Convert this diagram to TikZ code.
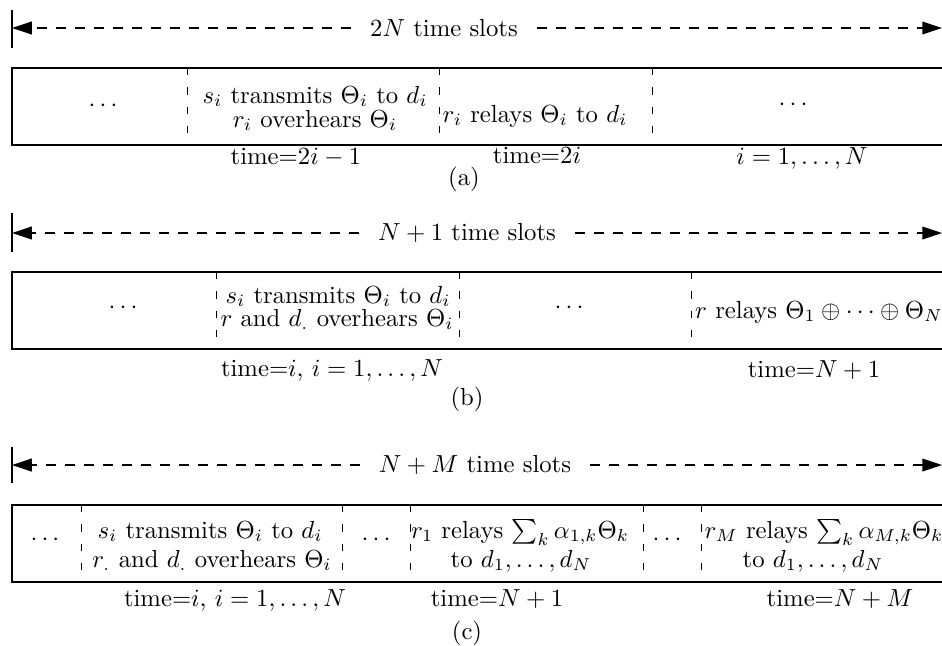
\documentclass[tikz,border=0pt]{standalone}
\usetikzlibrary{arrows.meta}
\begin{document}
\begin{tikzpicture}[x=0.405pt,y=-0.405pt,
  frame/.style={draw, line width=0.5pt},
  sep/.style={draw, line width=0.4pt, dash pattern=on 3pt off 4.8pt},
  span/.style={line width=0.45pt, dash pattern=on 4pt off 3.7pt, -{Triangle[length=8pt,width=5.2pt]}},
  bar/.style={line width=0.5pt},
  ttl/.style={inner ysep=2pt, inner xsep=7.5pt},
  txt/.style={inner sep=0pt, anchor=base},
  dots/.style={inner sep=0pt, anchor=center}]
\useasboundingbox (0,0) rectangle (942,645);
\clip (0,0) rectangle (942,645);

% ---------------- (a) ----------------
\coordinate (aBt) at (12,10);
\coordinate (aBb) at (12,48);
\coordinate (aL) at (12,28);
\coordinate (aR) at (942,28);
\draw[bar] (aBt) -- (aBb);
\node[ttl] (aT) at (444,28) {$2N$ time slots};
\draw[span] (aT.west) -- (aL);
\draw[span] (aT.east) -- (aR);
\draw[frame] (12,68) rectangle (960,145);
\draw[sep] (187,68) -- (187,145);
\draw[sep] (439,68) -- (439,145);
\draw[sep] (652,68) -- (652,145);
\node[dots] (a1) at (103,106) {$\cdots$};
\node[txt] (a2a) at (315,103) {$s_i$ transmits $\Theta_i$ to $d_i$};
\node[txt] (a2b) at (315,127) {$r_i$ overhears $\Theta_i$};
\node[txt] (a3) at (535,122) {$r_i$ relays $\Theta_i$ to $d_i$};
\node[dots] (a4) at (793,105) {$\cdots$};
\node[txt] (at1) at (296,164) {time=$2i-1$};
\node[txt] (at2) at (537,163) {time=$2i$};
\node[txt] (at3) at (802,164) {$i=1,\ldots,N$};
\node[txt] (acap) at (464,185) {(a)};

% ---------------- (b) ----------------
\coordinate (bBt) at (12,213);
\coordinate (bBb) at (12,252);
\coordinate (bL) at (12,233);
\coordinate (bR) at (942,233);
\draw[bar] (bBt) -- (bBb);
\node[ttl] (bT) at (467,233) {$N+1$ time slots};
\draw[span] (bT.west) -- (bL);
\draw[span] (bT.east) -- (bR);
\draw[frame] (12,272) rectangle (960,349);
\draw[sep] (216,272) -- (216,349);
\draw[sep] (459,272) -- (459,349);
\draw[sep] (691,272) -- (691,349);
\node[dots] (b1) at (123,308) {$\cdots$};
\node[txt] (b2a) at (338,303) {$s_i$ transmits $\Theta_i$ to $d_i$};
\node[txt] (b2b) at (337,326) {$r$ and $d_{.}$ overhears $\Theta_i$};
\node[dots] (b3) at (569,308) {$\cdots$};
\node[txt] (b4) at (819,318) {$r$ relays $\Theta_1\oplus\cdots\oplus\Theta_N$};
\node[txt] (bt1) at (332,376) {time=$i$, $i=1,\ldots,N$};
\node[txt] (bt2) at (814,377) {time=$N+1$};
\node[txt] (bcap) at (467,405) {(b)};

% ---------------- (c) ----------------
\coordinate (cBt) at (12,447);
\coordinate (cBb) at (12,483);
\coordinate (cL) at (12,465);
\coordinate (cR) at (942,465);
\draw[bar] (cBt) -- (cBb);
\node[ttl] (cT) at (475,465) {$N+M$ time slots};
\draw[span] (cT.west) -- (cL);
\draw[span] (cT.east) -- (cR);
\draw[frame] (12,505) rectangle (960,582);
\draw[sep] (81,505) -- (81,582);
\draw[sep] (342,505) -- (342,582);
\draw[sep] (410,505) -- (410,582);
\draw[sep] (643,505) -- (643,582);
\draw[sep] (701,505) -- (701,582);
\node[dots] (c1) at (45,540) {$\cdots$};
\node[txt] (c2a) at (210,538) {$s_i$ transmits $\Theta_i$ to $d_i$};
\node[txt] (c2b) at (212,567) {$r_{.}$ and $d_{.}$ overhears $\Theta_i$};
\node[dots] (c3) at (376,540) {$\cdots$};
\node[txt] (c4a) at (520,538) {$r_1$ relays $\sum_k\alpha_{1,k}\Theta_k$};
\node[txt] (c4b) at (521,567) {to $d_1,\ldots,d_N$};
\node[dots] (c5) at (667,540) {$\cdots$};
\node[txt] (c6a) at (824,538) {$r_M$ relays $\sum_k\alpha_{M,k}\Theta_k$};
\node[txt] (c6b) at (813,567) {to $d_1,\ldots,d_N$};
\node[txt] (ct1) at (235,606) {time=$i$, $i=1,\ldots,N$};
\node[txt] (ct2) at (497,606) {time=$N+1$};
\node[txt] (ct3) at (840,606) {time=$N+M$};
\node[txt] (ccap) at (467,639) {(c)};
\end{tikzpicture}
\end{document}
